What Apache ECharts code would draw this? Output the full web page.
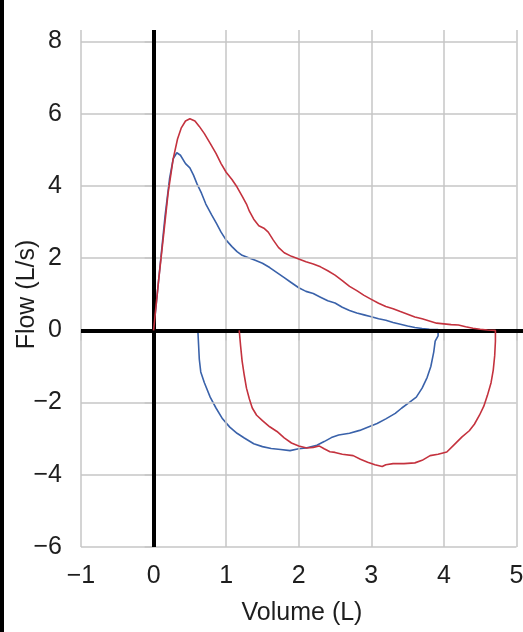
<!DOCTYPE html>
<html>
<head>
<meta charset="utf-8">
<script src="https://cdn.jsdelivr.net/npm/echarts@6/dist/echarts.min.js"></script>
<style>
  html, body { margin: 0; padding: 0; background: #ffffff; }
  #chart { width: 523px; height: 632px; }
</style>
</head>
<body>
<div id="chart"></div>
<script>
// Axis ticks
const volumeTicks = [-1, 0, 1, 2, 3, 4, 5];
const flowTicks = [-6, -4, -2, 0, 2, 4, 6, 8];

// Blue flow-volume loop: [volume L, flow L/s]
const blueExpiration = [
  [0, 0], [0.08, 1.6], [0.16, 3.2], [0.22, 4.2], [0.27, 4.75], [0.32, 4.92], [0.37, 4.85],
  [0.44, 4.62], [0.5, 4.5], [0.55, 4.3], [0.6, 4.05], [0.66, 3.8], [0.72, 3.5], [0.8, 3.2],
  [0.87, 2.95], [0.93, 2.72], [1.0, 2.5], [1.08, 2.32], [1.15, 2.18], [1.22, 2.08], [1.3, 2.02],
  [1.4, 1.94], [1.5, 1.86], [1.6, 1.74], [1.7, 1.6], [1.8, 1.46], [1.9, 1.32], [2.0, 1.18],
  [2.1, 1.08], [2.2, 1.02], [2.3, 0.92], [2.4, 0.82], [2.5, 0.76], [2.6, 0.64], [2.7, 0.55],
  [2.8, 0.48], [2.9, 0.43], [3.0, 0.38], [3.1, 0.32], [3.2, 0.28], [3.3, 0.22], [3.4, 0.17],
  [3.5, 0.12], [3.6, 0.08], [3.7, 0.05], [3.8, 0.03], [3.92, 0.02], [3.92, 0]
];
const blueInspiration = [
  [3.92, 0], [3.92, -0.15], [3.88, -0.3], [3.86, -0.6], [3.82, -1.0], [3.77, -1.3], [3.7, -1.6],
  [3.62, -1.85], [3.52, -2.0], [3.42, -2.15], [3.33, -2.3], [3.2, -2.45], [3.08, -2.58],
  [2.95, -2.68], [2.84, -2.77], [2.7, -2.85], [2.55, -2.9], [2.45, -2.97], [2.35, -3.08],
  [2.25, -3.18], [2.1, -3.26], [2.0, -3.28], [1.88, -3.33], [1.75, -3.3], [1.62, -3.27],
  [1.5, -3.22], [1.38, -3.14], [1.25, -2.98], [1.15, -2.85], [1.05, -2.68], [0.95, -2.45],
  [0.86, -2.15], [0.78, -1.85], [0.7, -1.45], [0.65, -1.15], [0.63, -0.8], [0.62, -0.4], [0.61, 0]
];

// Red flow-volume loop: [volume L, flow L/s]
const redExpiration = [
  [0, 0], [0.07, 1.4], [0.14, 2.68], [0.2, 3.8], [0.27, 4.75], [0.33, 5.3], [0.38, 5.6],
  [0.44, 5.8], [0.5, 5.86], [0.57, 5.8], [0.63, 5.65], [0.7, 5.45], [0.78, 5.18], [0.86, 4.9],
  [0.93, 4.62], [1.0, 4.38], [1.08, 4.18], [1.15, 3.97], [1.22, 3.72], [1.28, 3.5], [1.32, 3.3],
  [1.38, 3.08], [1.45, 2.9], [1.52, 2.83], [1.58, 2.72], [1.65, 2.5], [1.72, 2.3], [1.8, 2.15],
  [1.9, 2.05], [2.0, 1.98], [2.1, 1.9], [2.2, 1.84], [2.3, 1.76], [2.4, 1.65], [2.5, 1.53],
  [2.6, 1.38], [2.7, 1.22], [2.8, 1.1], [2.9, 0.97], [3.0, 0.86], [3.1, 0.75], [3.2, 0.66],
  [3.3, 0.6], [3.4, 0.52], [3.5, 0.45], [3.6, 0.37], [3.7, 0.32], [3.8, 0.26], [3.9, 0.2],
  [4.0, 0.18], [4.1, 0.16], [4.2, 0.15], [4.3, 0.1], [4.4, 0.06], [4.5, 0.03], [4.6, 0.01], [4.71, 0]
];
const redInspiration = [
  [4.71, 0], [4.71, -0.3], [4.7, -0.7], [4.68, -1.1], [4.65, -1.45], [4.6, -1.8], [4.55, -2.1],
  [4.49, -2.35], [4.42, -2.6], [4.35, -2.78], [4.25, -2.95], [4.15, -3.15], [4.04, -3.37],
  [3.92, -3.43], [3.81, -3.47], [3.7, -3.6], [3.6, -3.67], [3.45, -3.69], [3.3, -3.69],
  [3.2, -3.72], [3.15, -3.77], [3.05, -3.72], [2.95, -3.65], [2.85, -3.57], [2.75, -3.47],
  [2.6, -3.43], [2.5, -3.38], [2.43, -3.36], [2.35, -3.28], [2.28, -3.2], [2.2, -3.24],
  [2.11, -3.26], [2.0, -3.2], [1.9, -3.12], [1.8, -2.98], [1.7, -2.8], [1.6, -2.67], [1.5, -2.5],
  [1.42, -2.35], [1.36, -2.15], [1.32, -1.9], [1.28, -1.6], [1.25, -1.25], [1.22, -0.85],
  [1.2, -0.45], [1.18, 0]
];

const FLOW_MAX = 8.32;   // headroom above the top tick
const VOL_MAX = 5.09;    // zero line runs to the right edge

const minus = v => (v < 0 ? '\u2212' + Math.abs(v) : String(v));
const FONT = '"Liberation Sans", Arial, Helvetica, sans-serif';
const GRID_COLOR = '#c6c6c6';
const TEXT_COLOR = '#1e1e1e';
const FONT_SIZE = 25;

const chart = echarts.init(document.getElementById('chart'), null, { renderer: 'canvas' });

const volMin = volumeTicks[0];
const volLast = volumeTicks[volumeTicks.length - 1];
const flowMin = flowTicks[0];

// grid lines at the labelled ticks only
const gridLines = flowTicks.map(v => [{ coord: [volMin, v] }, { coord: [volLast, v] }])
  .concat(volumeTicks.map(v => [{ coord: [v, flowMin] }, { coord: [v, FLOW_MAX] }]));

chart.setOption({
  animation: false,
  backgroundColor: '#ffffff',
  textStyle: { fontFamily: FONT },
  grid: { left: 81, right: 0, top: 30, bottom: 85, containLabel: false, outerBoundsMode: 'none' },
  xAxis: {
    type: 'value',
    min: volMin,
    max: VOL_MAX,
    name: 'Volume (L)',
    nameLocation: 'middle',
    nameGap: 54,
    nameMoveOverlap: false,
    nameTextStyle: { fontSize: FONT_SIZE, color: TEXT_COLOR, fontFamily: FONT },
    axisLine: { show: false },
    axisTick: { show: true, length: 10, customValues: volumeTicks, lineStyle: { color: GRID_COLOR, width: 1.5 } },
    axisLabel: { customValues: volumeTicks, formatter: minus, fontSize: FONT_SIZE, color: TEXT_COLOR, margin: 17, fontFamily: FONT },
    splitLine: { show: false }
  },
  yAxis: {
    type: 'value',
    min: flowMin,
    max: FLOW_MAX,
    name: 'Flow (L/s)',
    nameLocation: 'middle',
    nameGap: 41,
    nameMoveOverlap: false,
    nameRotate: 90,
    nameTextStyle: { fontSize: FONT_SIZE, color: TEXT_COLOR, fontFamily: FONT, padding: [0, 12, 0, 0] },
    axisLine: { show: false },
    axisTick: { show: true, length: 9, customValues: flowTicks, lineStyle: { color: GRID_COLOR, width: 1.5 } },
    axisLabel: { customValues: flowTicks, formatter: minus, fontSize: FONT_SIZE, color: TEXT_COLOR, margin: 19, fontFamily: FONT },
    splitLine: { show: false }
  },
  graphic: [
    { type: 'rect', left: 0, top: 0, shape: { width: 4, height: 632 }, style: { fill: '#000' }, z: 100 }
  ],
  series: [
    {
      name: 'grid',
      type: 'line',
      data: [],
      silent: true,
      z: 1,
      markLine: {
        silent: true,
        symbol: ['none', 'none'],
        label: { show: false },
        lineStyle: { color: GRID_COLOR, width: 1.5, type: 'solid' },
        data: gridLines
      }
    },
    {
      name: 'zeroLines',
      type: 'line',
      data: [],
      silent: true,
      z: 3,
      markLine: {
        silent: true,
        symbol: ['none', 'none'],
        label: { show: false },
        lineStyle: { color: '#000', width: 4, type: 'solid' },
        data: [
          [{ coord: [volMin, 0] }, { coord: [VOL_MAX, 0] }],
          [{ coord: [0, flowMin] }, { coord: [0, FLOW_MAX] }]
        ]
      }
    },
    {
      name: 'Blue',
      type: 'line',
      data: blueExpiration.concat(blueInspiration),
      showSymbol: false,
      symbol: 'none',
      smooth: false,
      z: 4,
      lineStyle: { color: '#3a62aa', width: 1.6 }
    },
    {
      name: 'Red',
      type: 'line',
      data: redExpiration.concat(redInspiration),
      showSymbol: false,
      symbol: 'none',
      smooth: false,
      z: 5,
      lineStyle: { color: '#c4323e', width: 1.6 }
    }
  ]
});
</script>
</body>
</html>
